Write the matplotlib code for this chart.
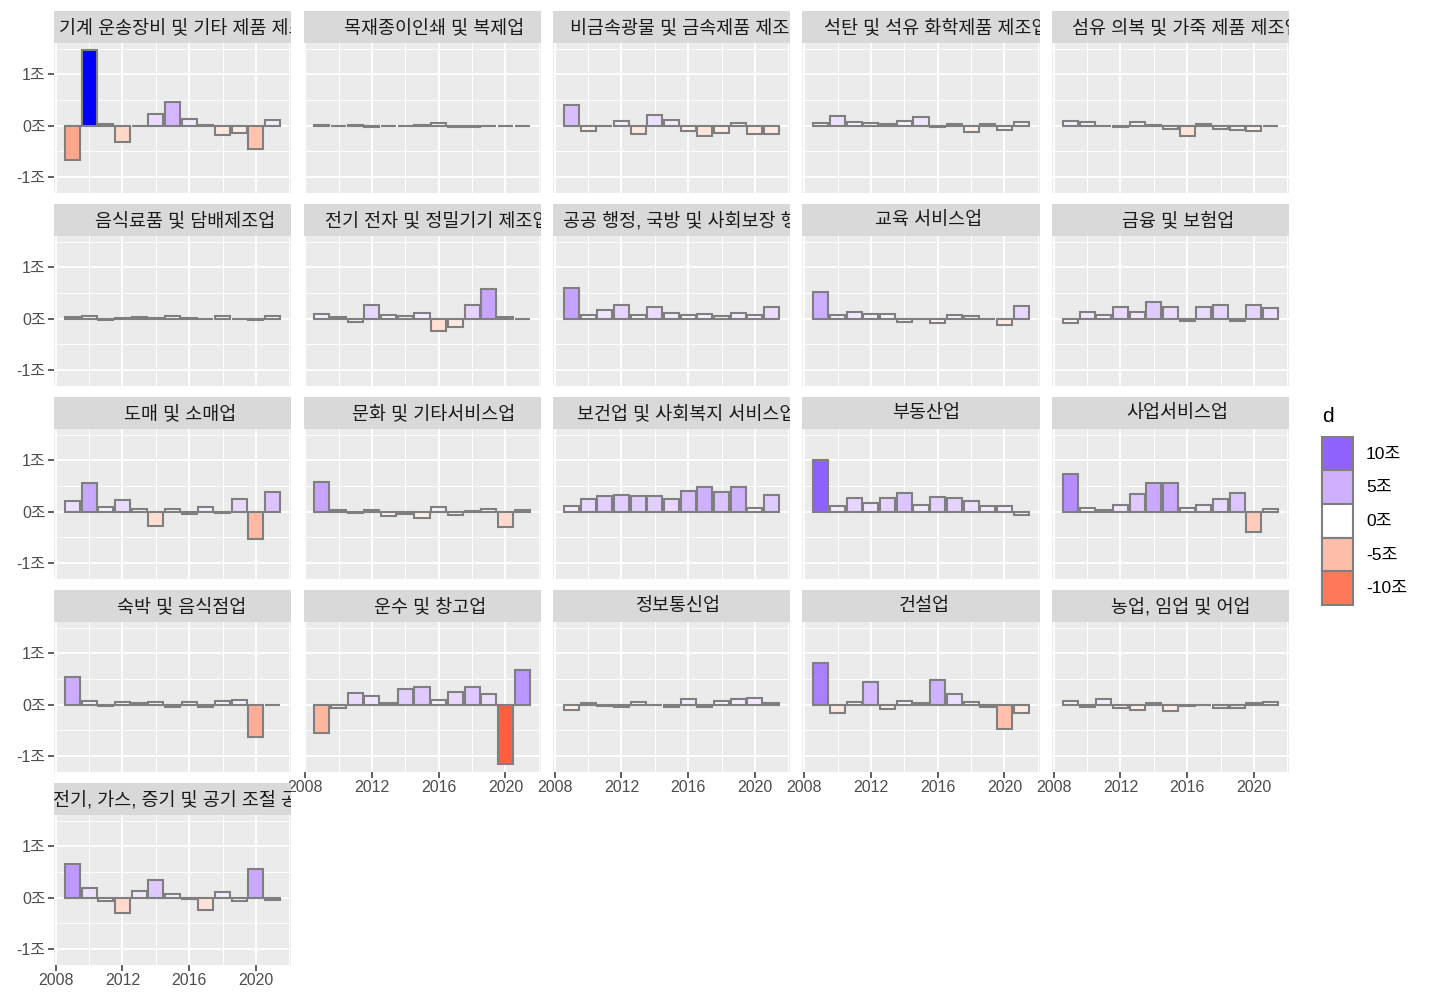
import numpy as np
import matplotlib
matplotlib.use("Agg")
import matplotlib.pyplot as plt
from matplotlib.patches import Patch

plt.rcParams['font.family'] = ['Liberation Sans', 'Noto Sans CJK KR', 'DejaVu Sans']

years = list(range(2009, 2022))

industries = [
    "기계 운송장비 및 기타 제품 제조업", "목재종이인쇄 및 복제업", "비금속광물 및 금속제품 제조업",
    "석탄 및 석유 화학제품 제조업", "섬유 의복 및 가죽 제품 제조업",
    "음식료품 및 담배제조업", "전기 전자 및 정밀기기 제조업", "공공 행정, 국방 및 사회보장 행정",
    "교육 서비스업", "금융 및 보험업",
    "도매 및 소매업", "문화 및 기타서비스업", "보건업 및 사회복지 서비스업", "부동산업", "사업서비스업",
    "숙박 및 음식점업", "운수 및 창고업", "정보통신업", "건설업", "농업, 임업 및 어업",
    "전기, 가스, 증기 및 공기 조절 공급업",
]

# 단위: 조
machinery = [-0.67, 1.48, 0.03, -0.31, -0.01, 0.22, 0.46, 0.14, 0.01, -0.19, -0.14, -0.46, 0.12]
wood_paper = [0.02, -0.01, 0.01, -0.02, -0.01, 0.0, 0.02, 0.05, -0.03, -0.02, 0.0, 0.0, 0.0]
metal = [0.41, -0.11, 0.0, 0.10, -0.17, 0.21, 0.12, -0.11, -0.21, -0.14, 0.06, -0.16, -0.16]
petro = [0.05, 0.19, 0.07, 0.06, 0.04, 0.09, 0.16, -0.03, 0.03, -0.12, 0.03, -0.08, 0.08]
textile = [0.10, 0.08, 0.0, -0.02, 0.07, 0.01, -0.07, -0.21, 0.03, -0.06, -0.08, -0.10, -0.01]
food = [0.04, 0.05, -0.02, 0.02, 0.04, 0.01, 0.05, 0.01, 0.0, 0.05, 0.0, -0.02, 0.05]
electronics = [0.10, 0.04, -0.07, 0.26, 0.07, 0.06, 0.12, -0.24, -0.16, 0.27, 0.57, 0.03, 0.0]
public = [0.59, 0.08, 0.16, 0.27, 0.07, 0.22, 0.12, 0.08, 0.10, 0.05, 0.12, 0.08, 0.22]
education = [0.52, 0.08, 0.14, 0.09, 0.09, -0.06, -0.01, -0.08, 0.08, 0.05, 0.0, -0.13, 0.25]
finance = [-0.08, 0.14, 0.07, 0.23, 0.14, 0.33, 0.22, -0.05, 0.22, 0.26, -0.04, 0.27, 0.20]
retail = [0.20, 0.56, 0.10, 0.22, 0.05, -0.27, 0.05, -0.05, 0.10, -0.03, 0.24, -0.53, 0.38]
culture = [0.58, 0.04, -0.03, 0.03, -0.08, -0.04, -0.12, 0.10, -0.06, 0.01, 0.05, -0.29, 0.03]
health = [0.11, 0.25, 0.31, 0.32, 0.30, 0.31, 0.25, 0.40, 0.49, 0.38, 0.49, 0.08, 0.33]
realestate = [1.01, 0.12, 0.26, 0.17, 0.27, 0.36, 0.13, 0.29, 0.27, 0.20, 0.12, 0.12, -0.06]
business = [0.73, 0.08, 0.04, 0.14, 0.34, 0.55, 0.55, 0.08, 0.14, 0.24, 0.36, -0.40, 0.06]
lodging = [0.53, 0.08, -0.03, 0.05, 0.03, 0.06, -0.04, 0.05, -0.05, 0.08, 0.10, -0.62, 0.0]
transport = [-0.56, -0.06, 0.23, 0.16, 0.03, 0.30, 0.34, 0.09, 0.25, 0.35, 0.21, -1.16, 0.67]
ict = [-0.11, 0.03, -0.03, -0.05, 0.06, -0.01, -0.04, 0.12, -0.05, 0.08, 0.11, 0.14, 0.04]
construction = [0.81, -0.17, 0.06, 0.44, -0.09, 0.07, 0.03, 0.49, 0.21, 0.05, -0.05, -0.48, -0.16]
agriculture = [0.08, -0.05, 0.11, -0.07, -0.10, 0.03, -0.12, -0.03, 0.0, -0.07, -0.06, 0.03, 0.06]
utilities = [0.66, 0.19, -0.06, -0.29, 0.14, 0.34, 0.08, -0.02, -0.23, 0.12, -0.06, 0.55, -0.04]

series = [machinery, wood_paper, metal, petro, textile, food, electronics, public, education,
          finance, retail, culture, health, realestate, business, lodging, transport, ict,
          construction, agriculture, utilities]

legend_breaks = [10, 5, 0, -5, -10]
legend_labels = ["10조", "5조", "0조", "-5조", "-10조"]


# ---- ggplot2 style gradient2 (Lab interpolation) ----
M = np.array([[0.4124564, 0.3575761, 0.1804375],
              [0.2126729, 0.7151522, 0.0721750],
              [0.0193339, 0.1191920, 0.9503041]])
WHITE = np.array([0.95047, 1.0, 1.08883])
D = 6 / 29


def to_lab(hexc):
    c = np.array(matplotlib.colors.to_rgb(hexc))
    lin = np.where(c <= 0.04045, c / 12.92, ((c + 0.055) / 1.055) ** 2.4)
    xyz = M @ lin / WHITE
    f = np.where(xyz > D ** 3, np.cbrt(xyz), xyz / (3 * D ** 2) + 4 / 29)
    return np.array([116 * f[1] - 16, 500 * (f[0] - f[1]), 200 * (f[1] - f[2])])


def from_lab(lab):
    fy = (lab[0] + 16) / 116
    fx = fy + lab[1] / 500
    fz = fy - lab[2] / 200
    f = np.array([fx, fy, fz])
    xyz = np.where(f > D, f ** 3, 3 * D ** 2 * (f - 4 / 29)) * WHITE
    lin = np.linalg.solve(M, xyz)
    lin = np.clip(lin, 0, 1)
    c = np.where(lin <= 0.0031308, 12.92 * lin, 1.055 * lin ** (1 / 2.4) - 0.055)
    return tuple(np.clip(c, 0, 1))


LOW, MID, HIGH = to_lab("red"), to_lab("white"), to_lab("blue")
fill_vals = [np.array(s) * 10 for s in series]
max_abs = max(np.abs(v).max() for v in fill_vals)


def fill_color(v):
    t = v / max_abs
    if t >= 0:
        return from_lab(MID + (HIGH - MID) * min(t, 1))
    return from_lab(MID + (LOW - MID) * min(-t, 1))


# ---- layout (pixels) ----
W, H = 1430, 1001
fig = plt.figure(figsize=(W / 100, H / 100), dpi=100)
col_x = [54, 303.5, 553, 802.5, 1052]
panel_w = 237
row_top = [11, 204, 397, 590, 783]
strip_h = 32
panel_h = 150


def rect(x, y, w, h):
    return [x / W, 1 - (y + h) / H, w / W, h / H]


renderer = fig.canvas.get_renderer()
n_cols = 5
for i, (name, vals, fv) in enumerate(zip(industries, series, fill_vals)):
    r, c = divmod(i, n_cols)
    x0 = col_x[c]
    ax = fig.add_axes(rect(x0, row_top[r] + strip_h, panel_w, panel_h))
    ax.set_facecolor("#EBEBEB")
    ax.bar(years, vals, width=0.9, color=[fill_color(v) for v in fv],
           edgecolor="#7F7F7F", linewidth=1.5, zorder=3)
    ax.set_xlim(2007.9, 2022.1)
    ax.set_ylim(-1.31, 1.61)
    ax.set_xticks([2008, 2012, 2016, 2020])
    ax.set_xticks([2010, 2014, 2018, 2022], minor=True)
    ax.set_yticks([-1, 0, 1])
    ax.set_yticks([-0.5, 0.5, 1.5], minor=True)
    ax.grid(which="major", color="white", linewidth=1.3, zorder=0)
    ax.grid(which="minor", color="white", linewidth=0.7, zorder=0)
    ax.set_axisbelow(True)
    for sp in ax.spines.values():
        sp.set_visible(False)
    ax.tick_params(which="minor", length=0)
    ax.tick_params(which="major", length=4, width=1.1, color="#333333",
                   labelcolor="#4D4D4D", labelsize=11.5, pad=2)
    if c == 0:
        ax.set_yticklabels(["-1조", "0조", "1조"])
    else:
        ax.tick_params(axis="y", length=0, labelleft=False)
    last_in_col = (i + n_cols >= len(series))
    if not last_in_col:
        ax.tick_params(axis="x", length=0, labelbottom=False)

    sax = fig.add_axes(rect(x0, row_top[r], panel_w, strip_h))
    sax.set_facecolor("#D9D9D9")
    sax.set_xticks([])
    sax.set_yticks([])
    for sp in sax.spines.values():
        sp.set_visible(False)
    t = sax.text(0.5, 0.47, name, ha="left", va="center", fontsize=13.3,
                 color="#1A1A1A", transform=sax.transAxes, clip_on=True)
    tw = t.get_window_extent(renderer).width
    t.set_x(0.5 - 0.43 * tw / (panel_w))

handles = [Patch(facecolor=fill_color(b), edgecolor="#7F7F7F", linewidth=1.5)
           for b in legend_breaks]
leg = fig.legend(handles, legend_labels, title="d", loc="upper left",
                 bbox_to_anchor=(1313 / W, 1 - 398 / H), frameon=False,
                 fontsize=12.5, title_fontsize=15, handlelength=1.8,
                 handleheight=2.6, labelspacing=0.0, handletextpad=0.75,
                 borderpad=0, alignment="left")
leg._legend_box.sep = 8

fig.savefig("out.png", dpi=100)
